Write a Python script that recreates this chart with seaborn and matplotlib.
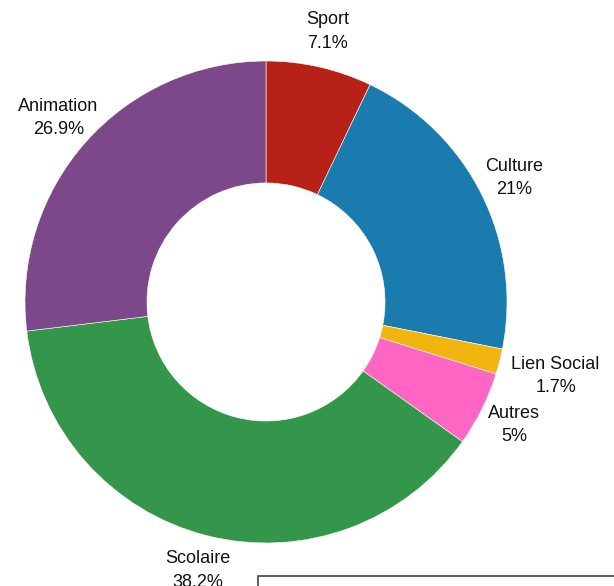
import matplotlib
matplotlib.use("Agg")
import matplotlib.pyplot as plt
import matplotlib.patches as mpatches
import numpy as np
import seaborn as sns

categories = ["Sport", "Culture", "Lien Social", "Autres", "Scolaire", "Animation"]
shares = [7.1, 21, 1.7, 5, 38.2, 26.9]
colors = ["#B82117", "#1A7BAF", "#F2B50F", "#FF66C4", "#33964A", "#7D4889"]

sns.set_theme(style="white")
plt.rcParams["font.family"] = ["Liberation Sans", "DejaVu Sans"]

fig = plt.figure(figsize=(6.14, 5.86), dpi=100)
ax = fig.add_axes([0, 0, 1, 1])

wedges, _ = ax.pie(
    shares,
    colors=colors,
    startangle=90,
    counterclock=False,
    radius=1.0,
    wedgeprops=dict(width=0.506, edgecolor="white", linewidth=0.4),
)

# label distance from the centre, pushed out a bit for the small slice
label_dist = {"Lien Social": 1.24}
for w, name, val in zip(wedges, categories, shares):
    mid = np.deg2rad((w.theta1 + w.theta2) / 2)
    d = label_dist.get(name, 1.15)
    ax.text(d * np.cos(mid), d * np.sin(mid), f"{name}\n{val:g}%",
            ha="center", va="center", fontsize=13, color="#111111",
            linespacing=1.5)

ax.set_xlim(-266 / 241, 348 / 241)
ax.set_ylim(-284 / 241, 302 / 241)
ax.set_aspect("equal")
ax.axis("off")

# box partly visible at the bottom right
fig.patches.append(mpatches.Rectangle(
    (258 / 614, -0.1), 0.7, 0.1 + 10.5 / 586, transform=fig.transFigure,
    fill=False, edgecolor="#444444", linewidth=1.2, clip_on=False))

fig.savefig("out.png", dpi=100)
